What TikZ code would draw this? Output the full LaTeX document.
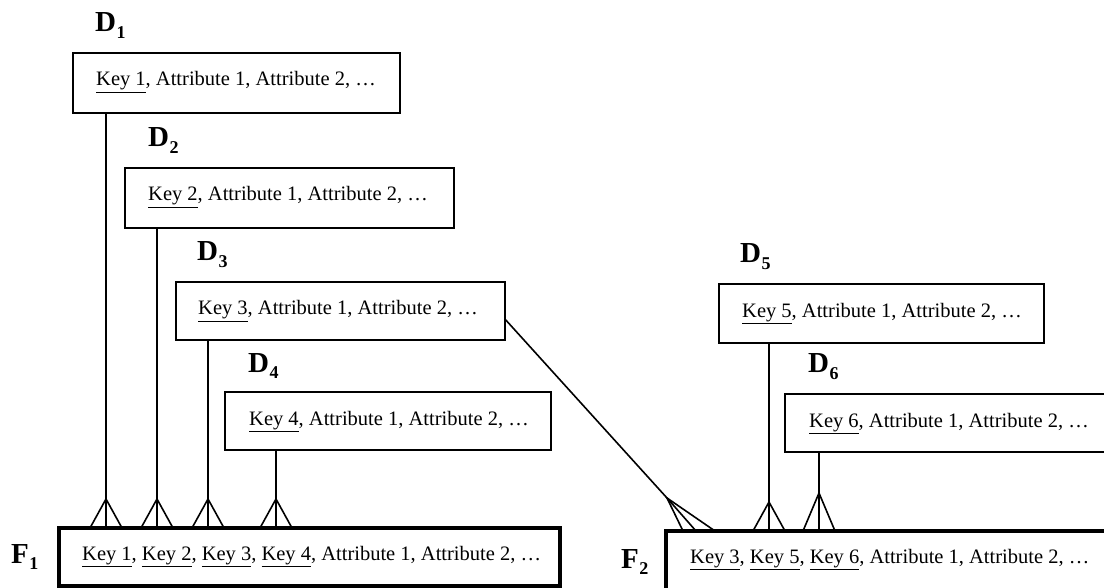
\documentclass[tikz,border=0pt]{standalone}
\usepackage{fontspec}
\setmainfont{Liberation Serif}
\usetikzlibrary{calc}

\tikzset{
  dimbox/.style={draw, line width=2pt, inner sep=0pt, outer sep=0pt, anchor=north west},
  factbox/.style={draw, line width=4pt, inner sep=0pt, outer sep=0pt, anchor=north west},
  rowtext/.style={anchor=base west, inner sep=0pt, font=\fontsize{20.5}{24}\selectfont},
  tabname/.style={anchor=base west, inner sep=0pt, font=\fontsize{29}{32}\selectfont\bfseries},
  link/.style={line width=1.6pt}
}
\newcommand\keyu[1]{\underline{#1}}
\newcommand\tabsub[2]{#1\kern0.5pt\raisebox{-6.5pt}{\fontsize{18}{18}\selectfont #2}}
% many-side crow's foot: apex coordinate, entity node, half spread
\newcommand\manyfoot[3]{%
  \draw[link] ($(#2.north -| #1)+(-#3,0)$) -- (#1) -- ($(#2.north -| #1)+(#3,0)$);}

\begin{document}
\begin{tikzpicture}[x=1pt,y=-1pt]
\useasboundingbox (0,0) rectangle (1104,588);
\clip (0,0) rectangle (1104,588);

% dimension tables
\node[dimbox, minimum width=327pt, minimum height=60pt] (d1) at (73,53) {};
\node[dimbox, minimum width=329pt, minimum height=60pt] (d2) at (125,168) {};
\node[dimbox, minimum width=329pt, minimum height=58pt] (d3) at (176,282) {};
\node[dimbox, minimum width=326pt, minimum height=58pt] (d4) at (225,392) {};
\node[dimbox, minimum width=325pt, minimum height=59pt] (d5) at (719,284) {};
\node[dimbox, minimum width=330pt, minimum height=58pt] (d6) at (785,394) {};

% fact tables
\node[factbox, minimum width=501pt, minimum height=58pt] (f1) at (59,528) {};
\node[factbox, minimum width=450pt, minimum height=64pt] (f2) at (666,531) {};

% table names
\node[tabname] (n1) at (95,32)  {\tabsub{D}{1}};
\node[tabname] (n2) at (148,147) {\tabsub{D}{2}};
\node[tabname] (n3) at (197,261) {\tabsub{D}{3}};
\node[tabname] (n4) at (248,372) {\tabsub{D}{4}};
\node[tabname] (n5) at (740,263) {\tabsub{D}{5}};
\node[tabname] (n6) at (808,373) {\tabsub{D}{6}};
\node[tabname] (m1) at (11,563)   {\tabsub{F}{1}};
\node[tabname] (m2) at (621,568) {\tabsub{F}{2}};

% table rows
\node[rowtext] (r1) at (96,86)  {\keyu{Key 1}, Attribute 1, Attribute 2, …};
\node[rowtext] (r2) at (148,201) {\keyu{Key 2}, Attribute 1, Attribute 2, …};
\node[rowtext] (r3) at (198,315) {\keyu{Key 3}, Attribute 1, Attribute 2, …};
\node[rowtext] (r4) at (249,425) {\keyu{Key 4}, Attribute 1, Attribute 2, …};
\node[rowtext] (r5) at (742,317) {\keyu{Key 5}, Attribute 1, Attribute 2, …};
\node[rowtext] (r6) at (809,427) {\keyu{Key 6}, Attribute 1, Attribute 2, …};
\node[rowtext] (q1) at (82,560)  {\keyu{Key 1}, \keyu{Key 2}, \keyu{Key 3}, \keyu{Key 4}, Attribute 1, Attribute 2, …};
\node[rowtext] (q2) at (690,563) {\keyu{Key 3}, \keyu{Key 5}, \keyu{Key 6}, Attribute 1, Attribute 2, …};

% crow's-foot apexes
\coordinate (a1) at (106,499);
\coordinate (a2) at (157,499);
\coordinate (a3) at (208,499);
\coordinate (a4) at (276,499);
\coordinate (a5) at (769,502);
\coordinate (a6) at (819,493);

% one-to-many relationships into F1
\draw[link] (d1.south -| a1) -- (f1.north -| a1);
\draw[link] (d2.south -| a2) -- (f1.north -| a2);
\draw[link] (d3.south -| a3) -- (f1.north -| a3);
\draw[link] (d4.south -| a4) -- (f1.north -| a4);
\manyfoot{a1}{f1}{16}
\manyfoot{a2}{f1}{16}
\manyfoot{a3}{f1}{16}
\manyfoot{a4}{f1}{16}

% one-to-many relationships into F2
\draw[link] (d5.south -| a5) -- (f2.north -| a5);
\draw[link] (d6.south -| a6) -- (f2.north -| a6);
\manyfoot{a5}{f2}{16}
\manyfoot{a6}{f2}{16}

% D3 shared with F2 by a slanted link
\coordinate (s3) at ($(d3.north east)!0.64!(d3.south east)$);
\coordinate (a7) at (667,498);
\coordinate (g1) at (683,0);
\coordinate (g2) at (696,0);
\coordinate (g3) at (715,0);
\draw[link] (s3) -- (a7) -- (f2.north -| g2);
\draw[link] (f2.north -| g1) -- (a7) -- (f2.north -| g3);
\end{tikzpicture}
\end{document}
